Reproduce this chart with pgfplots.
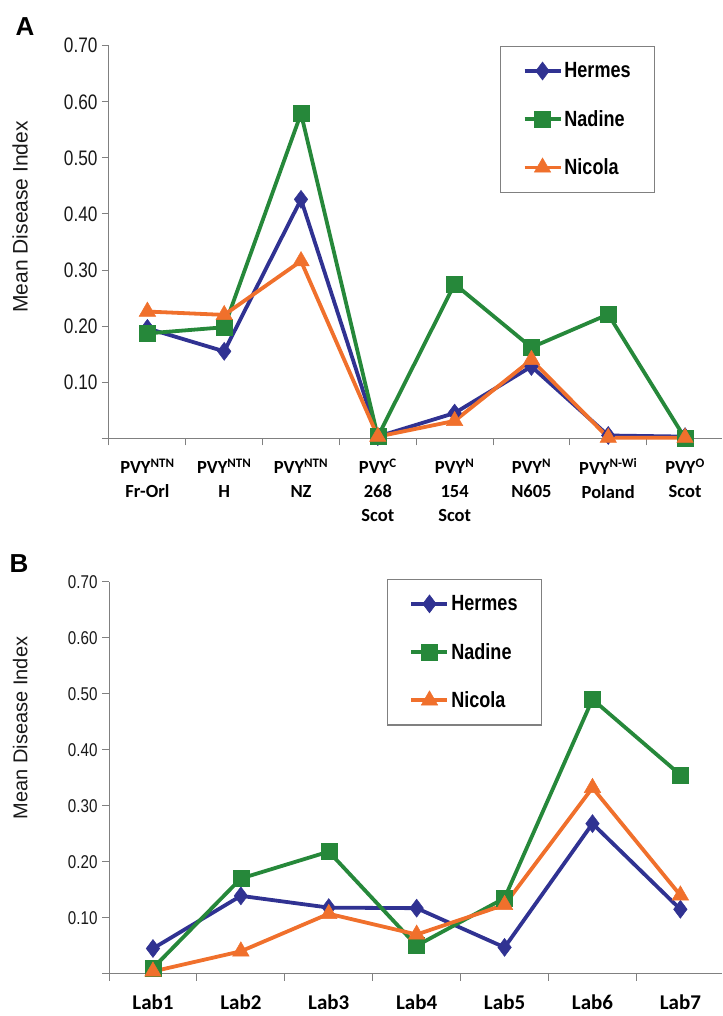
\documentclass[border=0pt]{standalone}
\usepackage{pgfplots}
\pgfplotsset{compat=1.18}
\usepackage{fontspec}
\setmainfont{Liberation Sans}
\newfontfamily\narrow[FakeStretch=0.82]{Liberation Sans}
\newfontfamily\calib{Carlito}
\definecolor{herm}{RGB}{48,50,146}
\definecolor{nad}{RGB}{38,136,58}
\definecolor{nic}{RGB}{240,112,44}
\definecolor{axgray}{RGB}{128,128,128}

\pgfplotstableread{
x herm nad nic
0 0.196 0.187 0.226
1 0.155 0.198 0.220
2 0.426 0.579 0.316
3 0.003 0.003 0.003
4 0.045 0.275 0.031
5 0.128 0.162 0.140
6 0.005 0.221 0.001
7 0.003 0.000 0.001
}\dataA

\pgfplotstableread{
x herm nad nic
0 0.045 0.010 0.004
1 0.139 0.170 0.040
2 0.118 0.218 0.107
3 0.117 0.050 0.070
4 0.047 0.135 0.123
5 0.268 0.490 0.332
6 0.115 0.355 0.140
}\dataB

\pgfplotsset{
  common/.style={
    scale only axis,
    axis lines=left,
    axis line style={-, draw=axgray, line width=1pt},
    ymin=0, ymax=0.70,
    ytick={0.1,0.2,0.3,0.4,0.5,0.6,0.7},
    minor ytick={0,0.1,0.2,0.3,0.4,0.5,0.6,0.7},
    y tick label style={/pgf/number format/fixed, /pgf/number format/fixed zerofill, /pgf/number format/precision=2, /pgf/number format/assume math mode=true},
    tick align=outside,
    major tick length=0pt,
    minor tick length=7pt,
    every tick/.style={draw=axgray, line width=1pt},
    y tick label style={font=\narrow\fontsize{21}{21}\selectfont, text=black!90, xshift=-8pt},
    clip=false,
    legend cell align=left,
    legend image code/.code={\draw[mark repeat=2,mark phase=2,#1] plot coordinates {(0pt,0pt) (18pt,0pt) (36pt,0pt)};},
    legend style={draw=axgray, line width=1.2pt, anchor=north west,
      font=\narrow\bfseries\fontsize{22}{22}\selectfont,
      row sep=27pt, inner xsep=22pt, inner ysep=14pt,
      nodes={inner xsep=2pt}},
    every axis plot/.append style={line width=3.8pt},
  },
  hermes/.style={color=herm, mark=diamond*, mark size=9pt, mark options={line width=0.5pt}},
  nadine/.style={color=nad, mark=square*, mark size=8pt, mark options={line width=0.5pt}},
  nicola/.style={color=nic, mark=triangle*, mark size=9.5pt, mark options={line width=0.5pt}},
}

\begin{document}
\begin{tikzpicture}
\useasboundingbox (0,0) rectangle (722pt,1016pt);

% Panel A
\begin{axis}[common,
  at={(109pt,577.7pt)}, anchor=south west,
  width=612.9pt, height=392.6pt,
  xmin=-0.5, xmax=7.48,
  xtick={0,...,7},
  minor xtick={-0.5,0.5,...,6.5},
  xticklabels={{PVY\textsuperscript{NTN}\\Fr-Orl},{PVY\textsuperscript{NTN}\\H},{PVY\textsuperscript{NTN}\\NZ},{PVY\textsuperscript{C}\\268\\Scot},{PVY\textsuperscript{N}\\154\\Scot},{PVY\textsuperscript{N}\\N605},{PVY\textsuperscript{N-Wi}\\Poland},{PVY\textsuperscript{O}\\Scot}},
  x tick label style={font=\calib\bfseries\fontsize{18.5}{24}\selectfont, align=center, anchor=north, yshift=-17pt, text=black},
  ylabel={Mean Disease Index},
  ylabel style={at={(axis description cs:-0.145,0.564)}, anchor=center, rotate=0, font=\fontsize{21}{21}\selectfont, text=black!90},
  legend style={at={(rel axis cs:0.638,0.999)}},
]
\addplot[hermes] table[x=x,y=herm]{\dataA};
\addplot[nadine] table[x=x,y=nad]{\dataA};
\addplot[nicola] table[x=x,y=nic]{\dataA};
\legend{Hermes,Nadine,Nicola}
\end{axis}

% Panel B
\begin{axis}[common,
  at={(109pt,42.3pt)}, anchor=south west,
  width=612.7pt, height=392pt,
  xmin=-0.5, xmax=6.47,
  xtick={0,...,6},
  minor xtick={-0.5,0.5,...,5.5},
  xticklabels={Lab1,Lab2,Lab3,Lab4,Lab5,Lab6,Lab7},
  x tick label style={font=\calib\bfseries\fontsize{21}{24}\selectfont, anchor=north, yshift=-18pt, text=black},
  y tick label style={font=\narrow\fontsize{18.5}{18.5}\selectfont},
  ylabel={Mean Disease Index},
  ylabel style={at={(axis description cs:-0.145,0.627)}, anchor=center, rotate=0, font=\fontsize{20}{20}\selectfont, text=black!90},
  legend style={at={(rel axis cs:0.4537,1.007)}},
]
\addplot[hermes] table[x=x,y=herm]{\dataB};
\addplot[nadine] table[x=x,y=nad]{\dataB};
\addplot[nicola] table[x=x,y=nic]{\dataB};
\legend{Hermes,Nadine,Nicola}
\end{axis}

\node[font=\bfseries\fontsize{26}{26}\selectfont] at (25pt,989.5pt) {A};
\node[font=\bfseries\fontsize{26}{26}\selectfont] at (19pt,452.5pt) {B};
\end{tikzpicture}
\end{document}
